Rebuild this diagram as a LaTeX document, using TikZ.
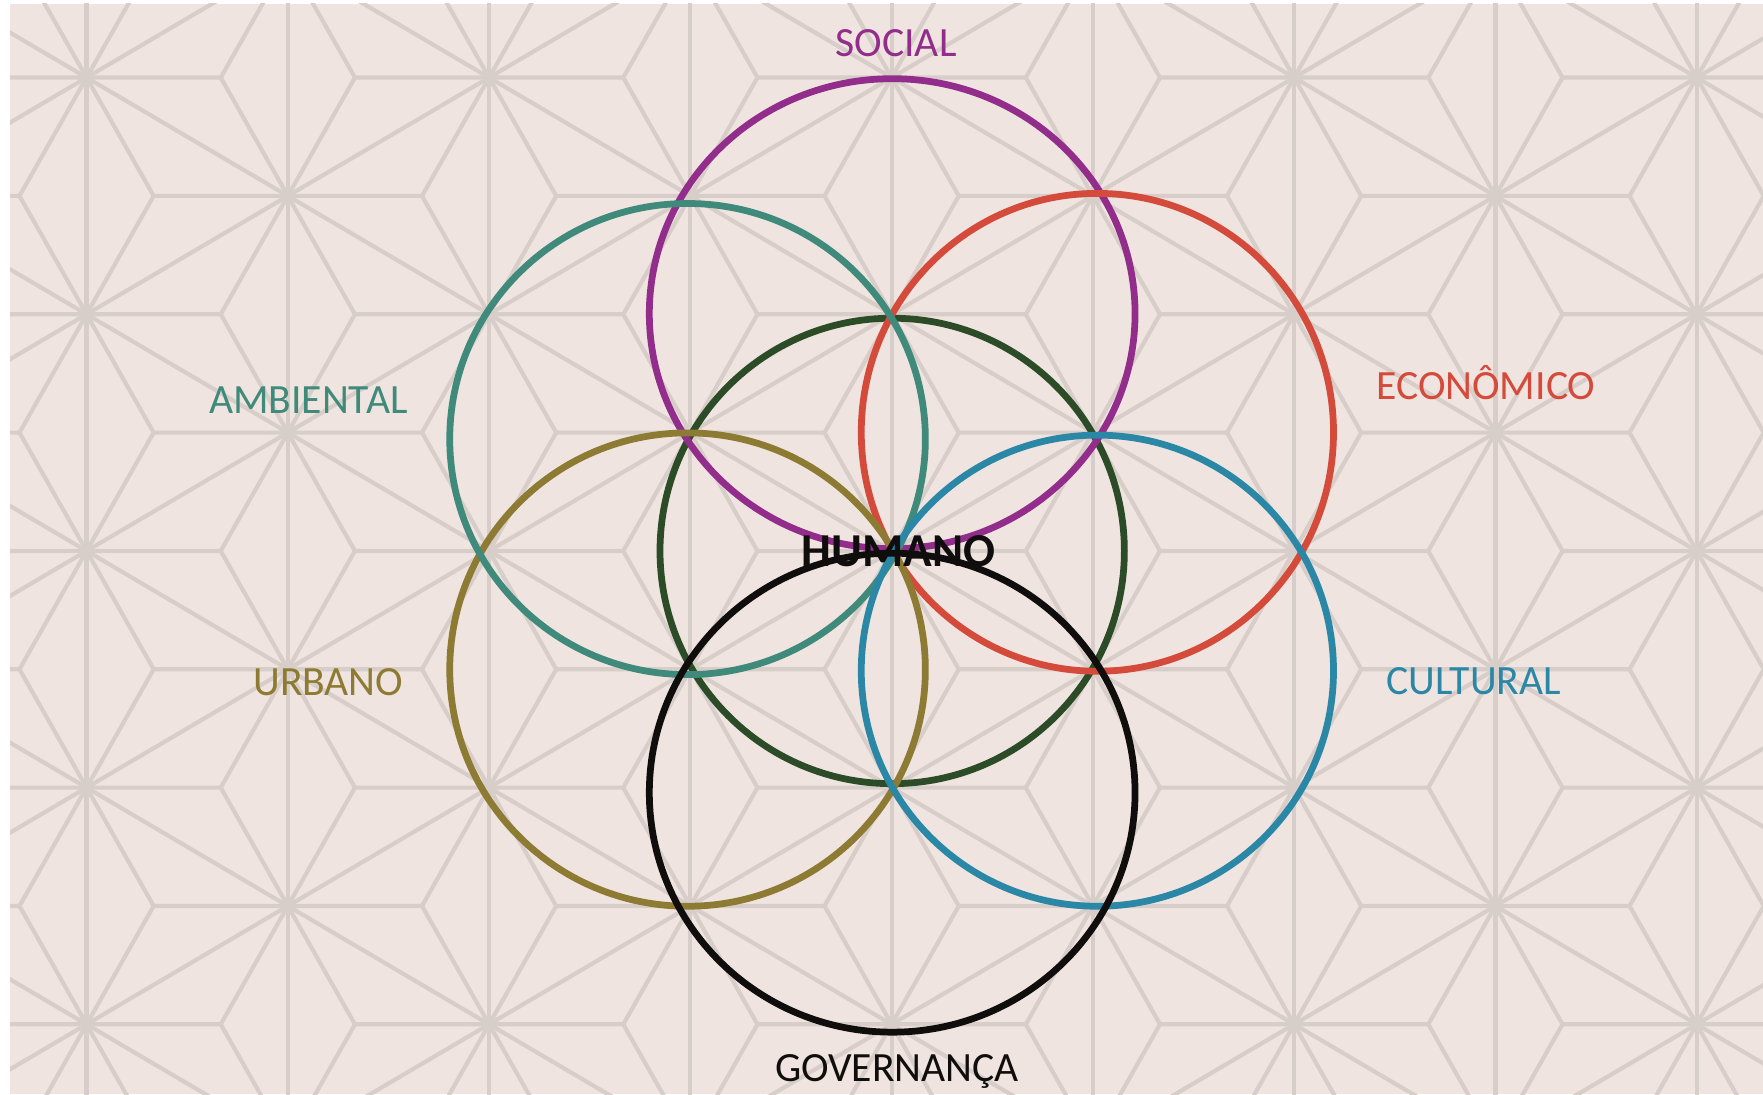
\documentclass[tikz,border=0pt]{standalone}
\usepackage{fontspec}
\setmainfont{Carlito}
\definecolor{paper}{HTML}{EFE4DF}
\definecolor{asaline}{HTML}{D8CEC9}
\definecolor{csocial}{HTML}{922D8C}
\definecolor{cambiental}{HTML}{3F8A7B}
\definecolor{ceconomico}{HTML}{D44A3B}
\definecolor{curbano}{HTML}{8D7B34}
\definecolor{ccultural}{HTML}{2A87A5}
\definecolor{chumano}{HTML}{2C4B27}
\definecolor{cgov}{HTML}{100D0D}
\begin{document}
\begin{tikzpicture}[x=1pt,y=-1pt,
  ring/.style={line width=6pt},
  lbl/.style={font=\fontsize{37}{40}\selectfont, anchor=base, inner sep=0pt},
  asa/.style={draw=asaline, line width=3.7pt, line cap=round, line join=round}]
\useasboundingbox (0,0) rectangle (1568,973);
\fill[white] (0,0) rectangle (1568,973);
\fill[paper] (9,3.5) rectangle (1568,973);
% asanoha background
\begin{scope}
  \clip (9,3.5) rectangle (1568,973);
  % vertical lattice lines
  \foreach \i in {-5,...,5}
    \draw[asa] (793+\i*179,-40) -- (793+\i*179,1020);
  % oblique lattice lines
  \foreach \m in {-7,...,7}{
    \draw[asa] (-200,490-583.87+\m*210.5) -- (1800,490+592.11+\m*210.5);
    \draw[asa] (-200,490+583.87+\m*210.5) -- (1800,490-592.11+\m*210.5);
  }
  % spokes from every star to the surrounding centroids
  \foreach \i in {-5,...,5}{
    \foreach \j in {-5,...,5}{
      \pgfmathsetmacro\px{793+\i*179}
      \pgfmathsetmacro\py{490+(2*\j+mod(abs(\i),2))*105.25}
      \draw[asa] (\px,\py) -- ++(119.33,0) (\px,\py) -- ++(-119.33,0)
        (\px,\py) -- ++(59.67,105.25) (\px,\py) -- ++(59.67,-105.25)
        (\px,\py) -- ++(-59.67,105.25) (\px,\py) -- ++(-59.67,-105.25);
    }
  }
\end{scope}
% seed of life rings
\draw[ring, draw=chumano] (793.5,490) ellipse [x radius=206.5pt, y radius=207pt];
\draw[ring, draw=csocial] (793.5,279) ellipse [x radius=216pt, y radius=209pt];
\draw[ring, draw=ceconomico] (976,384.5) ellipse [x radius=210pt, y radius=212.5pt];
\draw[ring, draw=curbano] (611.5,595.5) ellipse [x radius=211.5pt, y radius=210.5pt];
\draw[ring, draw=cambiental] (611.5,390.5) ellipse [x radius=211.5pt, y radius=209.5pt];
\draw[ring, draw=ccultural] (976,596.5) ellipse [x radius=210pt, y radius=209.5pt];
\draw[ring, draw=cgov] (793.5,705) ellipse [x radius=216pt, y radius=213pt];
% labels
\node[lbl, text=csocial] (social) at (797,50.4) {SOCIAL};
\node[lbl, text=cambiental] (ambiental) at (274.2,367.6) {AMBIENTAL};
\node[lbl, text=ceconomico] (economico) at (1321.5,355) {ECONÔMICO};
\node[lbl, text=curbano] (urbano) at (292,618.5) {URBANO};
\node[lbl, text=ccultural] (cultural) at (1310.8,617.5) {CULTURAL};
\node[lbl, text=cgov] (governanca) at (797.8,962) {GOVERNANÇA};
\node[anchor=base, inner sep=0pt, text=cgov, font=\bfseries\fontsize{42}{45}\selectfont] (humano) at (799,504) {HUMANO};
\end{tikzpicture}
\end{document}
